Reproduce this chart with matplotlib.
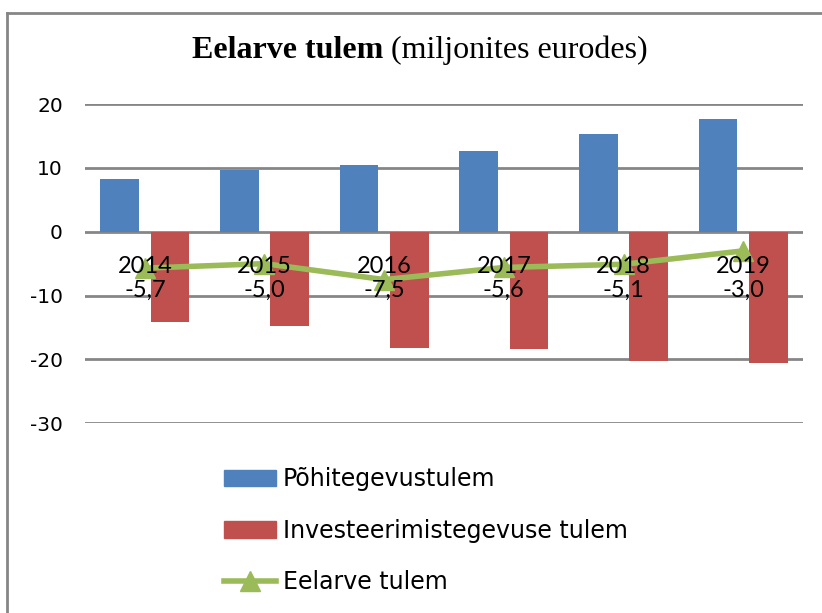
import matplotlib.pyplot as plt
from matplotlib.patches import Rectangle
from matplotlib.lines import Line2D
import numpy as np

years = ["2014", "2015", "2016", "2017", "2018", "2019"]
pohitegevus = [8.2, 9.7, 10.5, 12.7, 15.3, 17.6]
investeerimine = [-14.1, -14.7, -18.2, -18.3, -20.2, -20.6]
eelarve = [-5.7, -5.0, -7.5, -5.6, -5.1, -3.0]

blue = "#4F81BD"
red = "#C0504D"
green = "#9BBB59"
grid_col = "#868686"
sans = ["Lato", "DejaVu Sans"]
plt.rcParams["axes.unicode_minus"] = False

fig = plt.figure(figsize=(8.22, 6.13), dpi=100)
ax = fig.add_axes([0.1034, 0.3095, 0.8735, 0.5208])

x = np.arange(len(years))
w = 0.325
ax.bar(x - 0.21, pohitegevus, width=w, color=blue, zorder=2)
ax.bar(x + 0.21, investeerimine, width=w, color=red, zorder=2)
ax.plot(x, eelarve, color=green, lw=4, marker="^", markersize=15, zorder=3)

for i, (yr, v) in enumerate(zip(years, eelarve)):
    ax.text(i, -5.5, yr, ha="center", va="center", fontsize=17, family=sans, zorder=4)
    ax.text(i, -9.2, f"{v:.1f}".replace(".", ","), ha="center", va="center",
            fontsize=17, family=sans, zorder=4)

ax.set_xlim(-0.5, len(years) - 0.5)
ax.set_ylim(-30, 20)
ax.set_yticks(range(-30, 21, 10))
ax.set_xticks([])
ax.yaxis.grid(True, color=grid_col, lw=2, zorder=0)
ax.set_axisbelow(True)
for s in ax.spines.values():
    s.set_visible(False)
ax.tick_params(axis="y", length=0, pad=16, labelsize=14.5)
for lab in ax.get_yticklabels():
    lab.set_family("DejaVu Sans")

# title: bold part + normal part, centred together
t1 = fig.text(0, 0.918, "Eelarve tulem", ha="left", va="center",
              fontsize=23, fontweight="bold", family="Liberation Serif")
t2 = fig.text(0, 0.918, " (miljonites eurodes)", ha="left", va="center",
              fontsize=23, family="Liberation Serif")
fig.canvas.draw()
r = fig.canvas.get_renderer()
w1 = t1.get_window_extent(r).width / fig.bbox.width
w2 = t2.get_window_extent(r).width / fig.bbox.width
x0 = 0.511 - (w1 + w2) / 2
t1.set_x(x0)
t2.set_x(x0 + w1)

handles = [
    Rectangle((0, 0), 1, 1, color=blue),
    Rectangle((0, 0), 1, 1, color=red),
    Line2D([], [], color=green, lw=4, marker="^", markersize=15),
]
labels = ["Põhitegevustulem", "Investeerimistegevuse tulem", "Eelarve tulem"]
fig.legend(handles, labels, loc="upper left", bbox_to_anchor=(0.272, 0.238),
           frameon=False, borderpad=0, borderaxespad=0, handlelength=2.2,
           handleheight=0.7, handletextpad=0.3, labelspacing=1.17,
           prop={"family": "DejaVu Sans", "size": 17})

fig.add_artist(Line2D([0.009, 0.009], [0, 0.979], color=grid_col, lw=2))
fig.add_artist(Line2D([0.009, 1], [0.979, 0.979], color=grid_col, lw=2))

fig.savefig("out.png", dpi=100)
